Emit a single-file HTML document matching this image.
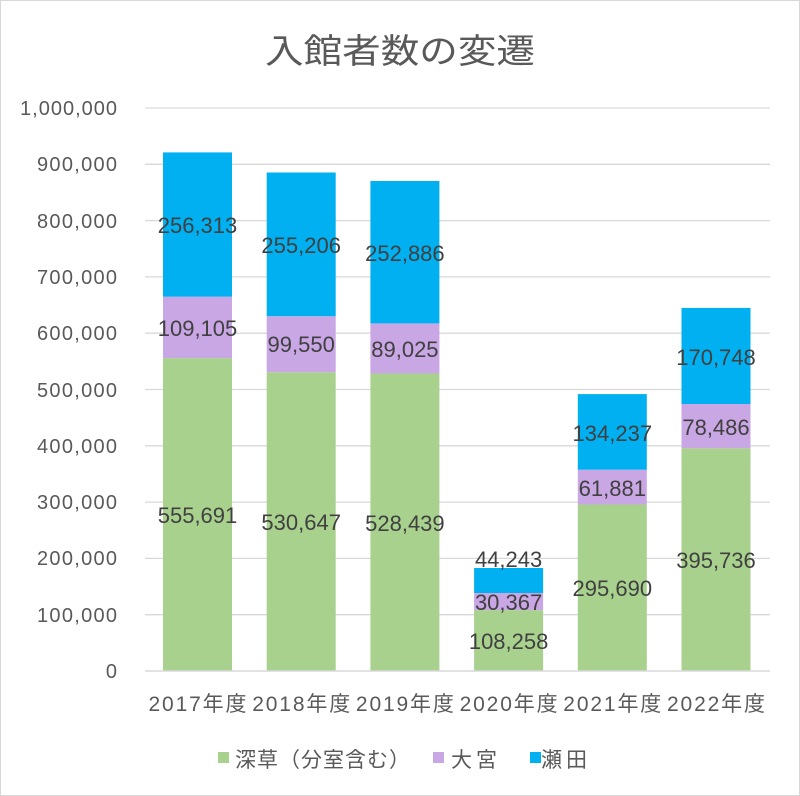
<!DOCTYPE html>
<html><head><meta charset="utf-8"><style>
html,body{margin:0;padding:0;background:#fff}
svg{display:block}
text{font-family:"Liberation Sans","Noto Sans CJK JP",sans-serif}
</style></head><body>
<svg width="800" height="796" viewBox="0 0 800 796">
<rect x="0.5" y="0.5" width="799" height="795" fill="#fff" stroke="#d9d9d9"/>
<text x="265" y="63" font-size="34" fill="#595959" textLength="270" lengthAdjust="spacingAndGlyphs">入館者数の変遷</text>
<g stroke="#d9d9d9" stroke-width="1.3">
<line x1="145" x2="770" y1="108" y2="108"/><line x1="145" x2="770" y1="164.3" y2="164.3"/>
<line x1="145" x2="770" y1="220.6" y2="220.6"/><line x1="145" x2="770" y1="276.9" y2="276.9"/>
<line x1="145" x2="770" y1="333.2" y2="333.2"/><line x1="145" x2="770" y1="389.5" y2="389.5"/>
<line x1="145" x2="770" y1="445.8" y2="445.8"/><line x1="145" x2="770" y1="502.1" y2="502.1"/>
<line x1="145" x2="770" y1="558.4" y2="558.4"/><line x1="145" x2="770" y1="614.7" y2="614.7"/>
</g>
<g font-size="20" fill="#595959" text-anchor="end">
<text x="117" y="115" textLength="97">1,000,000</text><text x="117" y="171" textLength="80">900,000</text>
<text x="117" y="228" textLength="80">800,000</text><text x="117" y="284" textLength="80">700,000</text>
<text x="117" y="340" textLength="80">600,000</text><text x="117" y="397" textLength="80">500,000</text>
<text x="117" y="453" textLength="80">400,000</text><text x="117" y="509" textLength="80">300,000</text>
<text x="117" y="565" textLength="80">200,000</text><text x="117" y="622" textLength="80">100,000</text>
<text x="117" y="678">0</text>
</g>
<g>
<rect x="163" y="358.1" width="69" height="312.9" fill="#a9d18e"/><rect x="163" y="296.7" width="69" height="61.4" fill="#c9a6e4"/><rect x="163" y="152.4" width="69" height="144.3" fill="#00b0f0"/>
<rect x="266.7" y="372.2" width="69" height="298.8" fill="#a9d18e"/><rect x="266.7" y="316.2" width="69" height="56" fill="#c9a6e4"/><rect x="266.7" y="172.5" width="69" height="143.7" fill="#00b0f0"/>
<rect x="370.4" y="373.5" width="69" height="297.5" fill="#a9d18e"/><rect x="370.4" y="323.4" width="69" height="50.1" fill="#c9a6e4"/><rect x="370.4" y="181" width="69" height="142.4" fill="#00b0f0"/>
<rect x="474.1" y="610.1" width="69" height="60.9" fill="#a9d18e"/><rect x="474.1" y="593" width="69" height="17.1" fill="#c9a6e4"/><rect x="474.1" y="568" width="69" height="25" fill="#00b0f0"/>
<rect x="577.8" y="504.5" width="69" height="166.5" fill="#a9d18e"/><rect x="577.8" y="469.7" width="69" height="34.8" fill="#c9a6e4"/><rect x="577.8" y="394.1" width="69" height="75.6" fill="#00b0f0"/>
<rect x="681.5" y="448.2" width="69" height="222.8" fill="#a9d18e"/><rect x="681.5" y="404" width="69" height="44.2" fill="#c9a6e4"/><rect x="681.5" y="307.9" width="69" height="96.1" fill="#00b0f0"/>
</g>
<line x1="145" x2="770" y1="671" y2="671" stroke="#d9d9d9" stroke-width="1.5"/>
<g font-size="22" fill="#404040" text-anchor="middle">
<text x="197.5" y="523">555,691</text><text x="197.5" y="336">109,105</text><text x="197.5" y="233">256,313</text>
<text x="301.2" y="530">530,647</text><text x="301.2" y="352">99,550</text><text x="301.2" y="253">255,206</text>
<text x="404.9" y="531">528,439</text><text x="404.9" y="357">89,025</text><text x="404.9" y="261">252,886</text>
<text x="508.6" y="649">108,258</text><text x="508.6" y="610">30,367</text><text x="508.6" y="567">44,243</text>
<text x="612.3" y="596">295,690</text><text x="612.3" y="496">61,881</text><text x="612.3" y="441">134,237</text>
<text x="716" y="568">395,736</text><text x="716" y="435">78,486</text><text x="716" y="365">170,748</text>
</g>
<g font-size="21" fill="#595959" text-anchor="middle" lengthAdjust="spacingAndGlyphs">
<text x="197.5" y="711" textLength="98">2017年度</text><text x="301.2" y="711" textLength="98">2018年度</text><text x="404.9" y="711" textLength="98">2019年度</text>
<text x="508.6" y="711" textLength="98">2020年度</text><text x="612.3" y="711" textLength="98">2021年度</text><text x="716" y="711" textLength="98">2022年度</text>
</g>
<g font-size="21" fill="#595959">
<rect x="218" y="752" width="11" height="11" fill="#a9d18e"/><text x="235" y="767" textLength="175">深草（分室含む）</text>
<rect x="433" y="752" width="11" height="11" fill="#c9a6e4"/><text x="451" y="767" textLength="46">大宮</text>
<rect x="530" y="752" width="11" height="11" fill="#00b0f0"/><text x="541" y="767" textLength="46">瀬田</text>
</g>
</svg>
</body></html>
